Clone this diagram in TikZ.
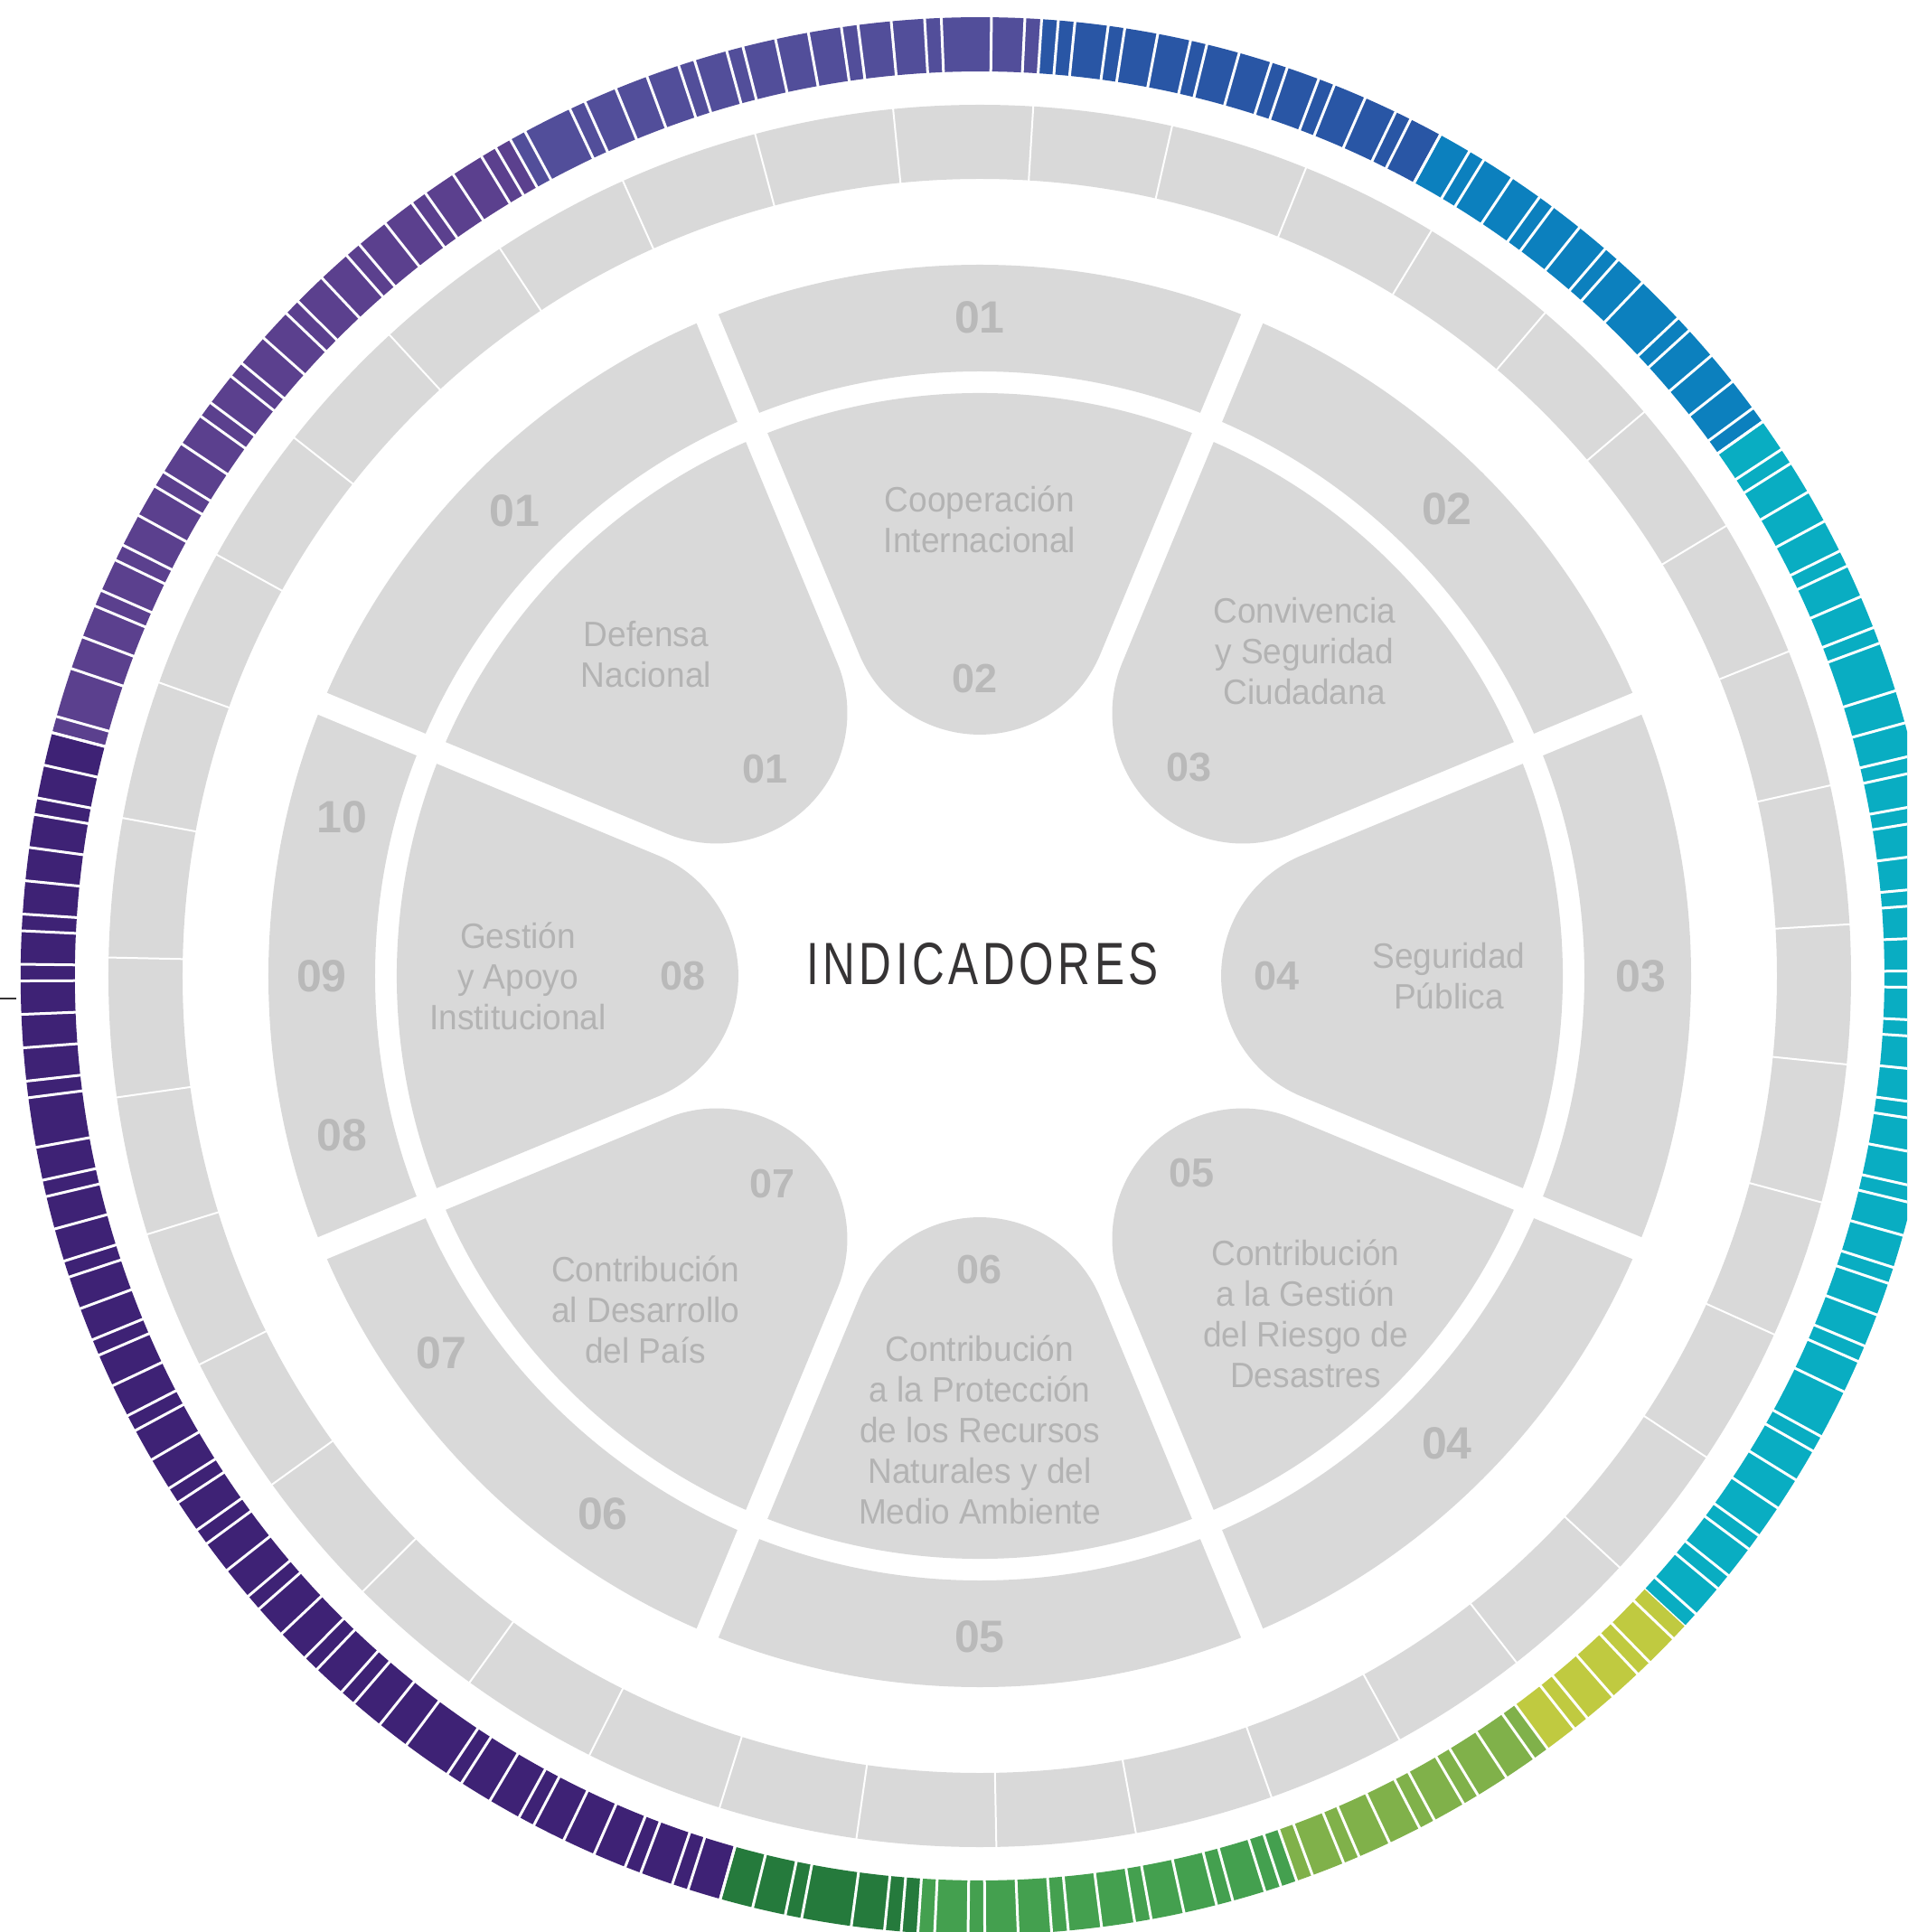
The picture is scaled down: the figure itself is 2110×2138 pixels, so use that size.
\documentclass[tikz,border=0pt]{standalone}
\usepackage{fontspec}
\setmainfont{Liberation Sans}
\newfontfamily\labelfont[FakeStretch=0.95]{Liberation Sans}
\newfontfamily\titlefont[FakeStretch=0.75,LetterSpace=7]{Liberation Sans}
\usepackage{tikz}

\definecolor{cellgrey}{HTML}{D9D9D9}
\definecolor{numgrey}{HTML}{B9B9B9}
\definecolor{txtgrey}{HTML}{B3B3B3}
\definecolor{titlegrey}{HTML}{363435}
\definecolor{lilac}{HTML}{524E9A}
\definecolor{purple}{HTML}{5B408E}
\definecolor{indigo}{HTML}{3E2275}
\definecolor{dkgreen}{HTML}{257A3C}
\definecolor{green}{HTML}{44A04F}
\definecolor{ltgreen}{HTML}{80B14A}
\definecolor{lime}{HTML}{C0CA40}
\definecolor{teal}{HTML}{09ADC2}
\definecolor{blue}{HTML}{0C80BE}
\definecolor{dkblue}{HTML}{2956A5}

\tikzset{
  ringnum/.style={text=numgrey, font=\fontsize{50}{50}\selectfont\bfseries},
  petalnum/.style={text=numgrey, font=\fontsize{45}{45}\selectfont\bfseries},
  petaltext/.style={text=txtgrey, align=center, font=\labelfont\fontsize{39}{45}\selectfont},
  ringcut/.style={white, line width=3},
  greycut/.style={white, line width=2}
}

\begin{document}
\begin{tikzpicture}[x=1pt, y=1pt]
    \useasboundingbox (-1084,-1058) rectangle (1026,1080);
    \fill[white] (-1084,-1058) rectangle (1026,1080);
    \clip (-1084,-1058) rectangle (1026,1080);

    % outer colour ring
    \foreach \a/\b/\c in {-42.7/35.3/teal, 35.3/61.3/blue, 61.3/86.3/dkblue, 86.3/119.3/lilac,
        119.3/165.3/purple, 165.3/254.3/indigo, 254.3/266.3/dkgreen, 266.3/289.3/green,
        289.3/306.3/ltgreen, 306.3/317.3/lime} {
        \draw[\c, line width=60] (\a:1031) arc[start angle=\a, end angle=\b, radius=1031];
        \draw[ringcut] (\a:994) -- (\a:1068);
    }
    \def\acc{0.3}
    \foreach \rep in {1,...,5}
        \foreach \w in {2,2,1,2,2,1,2,1,2,2, 3,1,2,2,1,2,2,2,1,2,
                        1,2,2,2,1,3,2,1,2,2, 1,2,2,1,2,2,1,2,2,1,2,1} {
            \pgfmathsetmacro\pos{\acc+\w}
            \xdef\acc{\pos}
            \draw[ringcut] (\pos:994) -- (\pos:1068);
        }

    % grey ring
    \draw[cellgrey, line width=82] (0,0) circle (923);
    \foreach \i in {0,...,38}
        \draw[greycut] ({3.4+\i*360/39}:878) -- ({3.4+\i*360/39}:968);

    % numbered ring
    \draw[cellgrey, line width=118] (0,0) circle (728);
    \foreach \k in {0,...,7}
        \draw[white, line width=26] ({22.5+45*\k}:600) -- ({22.5+45*\k}:800);

    % petals
    \foreach \t in {0,45,...,315}
        \fill[cellgrey, rotate=\t-90] (234.8,600.8) -- (133.5,356.3)
            arc[start angle=-22.5, end angle=-157.5, radius=144.5]
            -- (-234.8,600.8) arc[start angle=111.35, end angle=68.65, radius=645] -- cycle;

    \node[ringnum] (r01) at (90:729) {01};
    \node[ringnum] (r02) at (45:731) {02};
    \node[ringnum] (r03) at (0:731) {03};
    \node[ringnum] (r04) at (-45:731) {04};
    \node[ringnum] (r05) at (-90:731) {05};
    \node[ringnum] (r06) at (-125:727) {06};
    \node[ringnum] (r07) at (-145:727) {07};
    \node[ringnum] (r08) at (-166:727) {08};
    \node[ringnum] (r09) at (180:728) {09};
    \node[ringnum] (r10) at (166:727) {10};
    \node[ringnum] (r01b) at (135:728) {01};

    \node[petalnum] (p01) at (136:330) {01};
    \node[petalnum] (p02) at (91:329) {02};
    \node[petalnum] (p03) at (45:327) {03};
    \node[petalnum] (p04) at (0:329) {04};
    \node[petalnum] (p05) at (-43:320) {05};
    \node[petalnum] (p06) at (-90:325) {06};
    \node[petalnum] (p07) at (-135:325) {07};
    \node[petalnum] (p08) at (180:328) {08};

    \node[petaltext] (defensa) at (136:513) {Defensa\\Nacional};
    \node[petaltext] (cooperacion) at (90:505) {Cooperación\\Internacional};
    \node[petaltext] (convivencia) at (45:508) {Convivencia\\y Seguridad\\Ciudadana};
    \node[petaltext] (seguridad) at (0:519) {Seguridad\\Pública};
    \node[petaltext] (riesgo) at (-46:519) {Contribución\\a la Gestión\\del Riesgo de\\Desastres};
    \node[petaltext] (proteccion) at (-90:502) {Contribución\\a la Protección\\de los Recursos\\Naturales y del\\Medio Ambiente};
    \node[petaltext] (desarrollo) at (-135:523) {Contribución\\al Desarrollo\\del País};
    \node[petaltext] (gestion) at (180:511) {Gestión\\y Apoyo\\Institucional};

    \node[text=titlegrey, anchor=base, font=\titlefont\fontsize{66}{70}\selectfont] (title) at (3,-9.3) {INDICADORES};

    \coordinate (tick) at (-1084,-25);
    \draw[titlegrey, line width=1.5] (tick) -- ++(18,0);
\end{tikzpicture}
\end{document}
